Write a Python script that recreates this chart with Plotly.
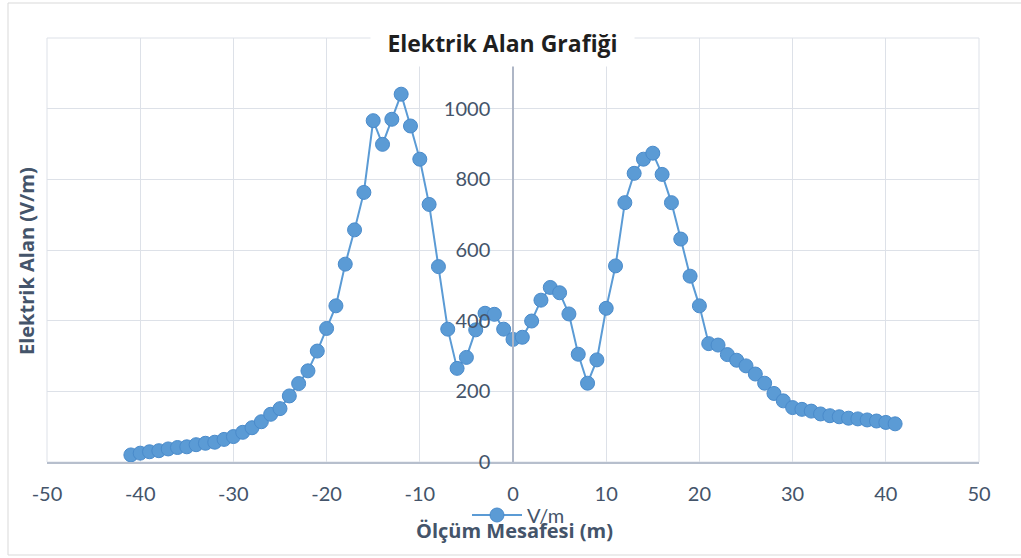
import plotly.graph_objects as go

distance_m = list(range(-41, 42))
field_vm = [
    20, 25, 29, 32, 37, 41, 43, 49, 53, 56,          # -41 .. -32
    64, 72, 84, 97, 114, 135, 151, 187, 222, 258,    # -31 .. -22
    314, 378, 442, 560, 657, 763, 966, 899, 970, 1041,  # -21 .. -12
    951, 857, 729, 553, 376, 265, 296, 374, 421, 418,   # -11 .. -2
    376, 347, 353, 399, 458, 494, 479, 419, 305, 223,   # -1 .. 8
    289, 435, 555, 734, 817, 857, 874, 814, 734, 631,   # 9 .. 18
    526, 442, 335, 331, 304, 288, 272, 249, 223, 194,   # 19 .. 28
    173, 154, 149, 144, 136, 131, 128, 124, 122, 119,   # 29 .. 38
    116, 112, 108,                                      # 39 .. 41
]
x_ticks = [-50, -40, -30, -20, -10, 0, 10, 20, 30, 40, 50]
x_tick_text = ["-50", "-40", "-30", "-20", "-10", "0", "10", "20", "30", "40", "50"]
y_ticks = [0, 200, 400, 600, 800, 1000, 1200]
y_tick_text = ["0", "200", "400", "600", "800", "1000", ""]

series_name = "V/m"
title_text = "Elektrik Alan Grafiği"
x_title = "Ölçüm Mesafesi (m)"
y_title = "Elektrik Alan (V/m)"

FONT = "Lato"
TFONT = "Open Sans"
TXT = "#44546A"
GRID = "#DDE1E8"
BLUE = "#5B9BD5"

fig = go.Figure()
fig.add_trace(go.Scatter(
    x=distance_m, y=field_vm, name=series_name, mode="lines+markers",
    line=dict(color=BLUE, width=2),
    marker=dict(size=14, color=BLUE, line=dict(color="#4A8BCB", width=1)),
))

W, H = 1021, 558
L, R, T, B = 47, 42, 38, 96
pw, ph = W - L - R, H - T - B

def px(xp):
    return (xp - L) / pw

def py(yp):
    return (H - B - yp) / ph

fig.update_layout(
    width=W, height=H,
    margin=dict(l=L, r=R, t=T, b=B),
    paper_bgcolor="white", plot_bgcolor="white",
    font=dict(family=FONT, color=TXT),
    showlegend=True,
    legend=dict(orientation="h", x=px(467), y=py(515), xanchor="left", yanchor="middle",
                itemwidth=50,
                font=dict(size=20, color=TXT, family=FONT), bgcolor="rgba(0,0,0,0)"),
    xaxis=dict(range=[-50, 50], tickvals=x_ticks, ticktext=x_tick_text,
               showgrid=True, gridcolor=GRID, gridwidth=1,
               zeroline=False, showline=True, linecolor="#B7BFCD", linewidth=1.5,
               ticks="", tickfont=dict(size=20, color=TXT, family=FONT),
               ticklabelstandoff=13),
    yaxis=dict(range=[0, 1200], tickvals=y_ticks, ticktext=y_tick_text,
               showgrid=True, gridcolor=GRID, gridwidth=1,
               zeroline=False, showline=True, linecolor="#AEB6C6", linewidth=1.5,
               anchor="free", position=0.5, side="left",
               ticks="", tickfont=dict(size=20, color=TXT, family=FONT),
               ticklabelstandoff=18),
    shapes=[
        dict(type="rect", xref="paper", yref="paper", x0=0, x1=1, y0=0, y1=1,
             line=dict(color=GRID, width=1), layer="below"),
        dict(type="rect", xref="paper", yref="paper",
             x0=px(8), x1=px(1030), y0=py(3), y1=py(555),
             line=dict(color="#D9D9D9", width=1), layer="below"),
    ],
    annotations=[
        dict(text="<b>" + title_text + "</b>", xref="paper", yref="paper",
             x=px(502), y=py(43), xanchor="center", yanchor="middle",
             showarrow=False, width=261, height=44, bgcolor="white",
             font=dict(size=23, color="#1F1F1F", family=TFONT)),
        dict(text="<b>" + x_title + "</b>", xref="paper", yref="paper",
             x=px(514), y=py(530), xanchor="center", yanchor="middle",
             showarrow=False, font=dict(size=20, color=TXT, family=TFONT)),
        dict(text="<b>" + y_title + "</b>", xref="paper", yref="paper",
             x=px(26), y=py(261), xanchor="center", yanchor="middle", textangle=-90,
             showarrow=False, font=dict(size=20, color=TXT, family=TFONT)),
    ],
)

fig.write_html("out.html")
